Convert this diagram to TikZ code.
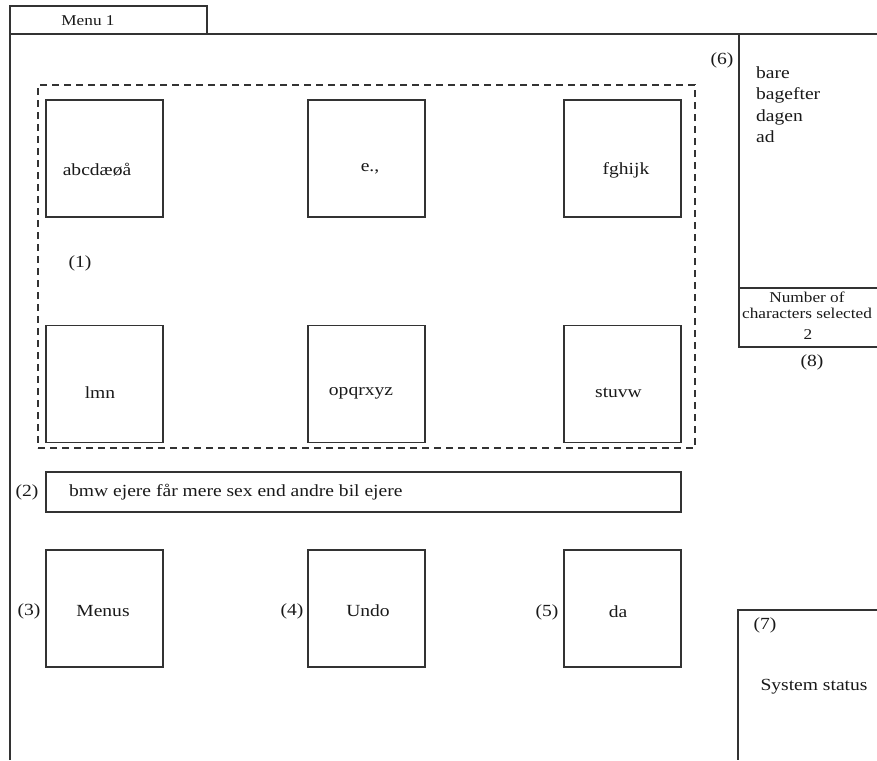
\documentclass[tikz,border=0pt]{standalone}
\usepackage{fontspec}
\setmainfont[FakeStretch=1.15]{Liberation Serif}
\begin{document}
\begin{tikzpicture}[x=1pt,y=-1pt,
  line/.style={line width=1.1pt, draw=black!80},
  key/.style={line, rectangle, minimum width=117pt, minimum height=117pt, inner sep=0pt},
  txt/.style={font=\fontsize{17}{20}\selectfont, inner sep=0pt, text=black!90},
  smalltxt/.style={font=\fontsize{15}{16}\selectfont, inner sep=0pt, text=black!90, align=center},
  grp/.style={draw=black!80, line width=1.1pt, dash pattern=on 7pt off 5pt, rectangle, inner sep=0pt},
]
\useasboundingbox (0,0) rectangle (877,760);

% window tab and frame
\node[line, rectangle, minimum width=197pt, minimum height=28pt, inner sep=0pt] (tab) at (108.5,20) {};
\node[txt, font=\fontsize{15}{18}\selectfont] (tabtxt) at (88,21) {Menu 1};
\coordinate (fbl) at (10,760);
\coordinate (ftl) at (10,34);
\coordinate (ftr) at (877,34);
\draw[line] (fbl) -- (ftl) -- (ftr);

% character group (1)
\node[grp, minimum width=657pt, minimum height=363pt] (group) at (366.5,266.5) {};
\node[txt] (n1) at (80,263) {(1)};

\node[key] (k1) at (104.5,158.5) {};
\node[key] (k2) at (366.5,158.5) {};
\node[key] (k3) at (622.5,158.5) {};
\node[key] (k4) at (104.5,384) {};
\node[key] (k5) at (366.5,384) {};
\node[key] (k6) at (622.5,384) {};

\node[txt] (t1) at (97,170) {abcdæøå};
\node[txt] (t2) at (370,169) {e.,};
\node[txt] (t3) at (626,170) {fghijk};
\node[txt] (t4) at (100,393) {lmn};
\node[txt] (t5) at (361,393) {opqrxyz};
\node[txt] (t6) at (618.5,393) {stuvw};

% text line (2)
\node[line, rectangle, minimum width=635pt, minimum height=40pt, inner sep=0pt] (bar) at (363.5,492) {};
\node[txt, anchor=west] (bartxt) at (69,492) {bmw ejere får mere sex end andre bil ejere};
\node[txt] (n2) at (27,492) {(2)};

% function keys (3)-(5)
\node[key] (menus) at (104.5,608.5) {};
\node[key] (undo) at (366.5,608.5) {};
\node[key] (da) at (622.5,608.5) {};
\node[txt] (menustxt) at (103,611) {Menus};
\node[txt] (undotxt) at (368,611) {Undo};
\node[txt] (datxt) at (618,612) {da};
\node[txt] (n3) at (29,611) {(3)};
\node[txt] (n4) at (292,611) {(4)};
\node[txt] (n5) at (547,612) {(5)};

% word suggestions (6) and counter (8)
\coordinate (sp1) at (739,34);
\coordinate (sp2) at (739,347);
\coordinate (sp3) at (877,347);
\coordinate (sp4) at (739,288);
\coordinate (sp5) at (877,288);
\draw[line] (sp1) -- (sp2) -- (sp3);
\draw[line] (sp4) -- (sp5);
\node[txt] (n6) at (722,60) {(6)};
\node[txt, anchor=west] (w1) at (756,73) {bare};
\node[txt, anchor=west] (w2) at (756,95) {bagefter};
\node[txt, anchor=west] (w3) at (756,117) {dagen};
\node[txt, anchor=west] (w4) at (756,137) {ad};
\node[smalltxt] (count) at (807,305) {Number of\\characters selected};
\node[txt, font=\fontsize{15}{18}\selectfont] (countval) at (808,335) {2};
\node[txt] (n8) at (812,362) {(8)};

% system status (7)
\coordinate (ss1) at (877,610);
\coordinate (ss2) at (738,610);
\coordinate (ss3) at (738,760);
\draw[line] (ss1) -- (ss2) -- (ss3);
\node[txt] (n7) at (765,625) {(7)};
\node[txt] (status) at (814,687) {System status};
\end{tikzpicture}
\end{document}
